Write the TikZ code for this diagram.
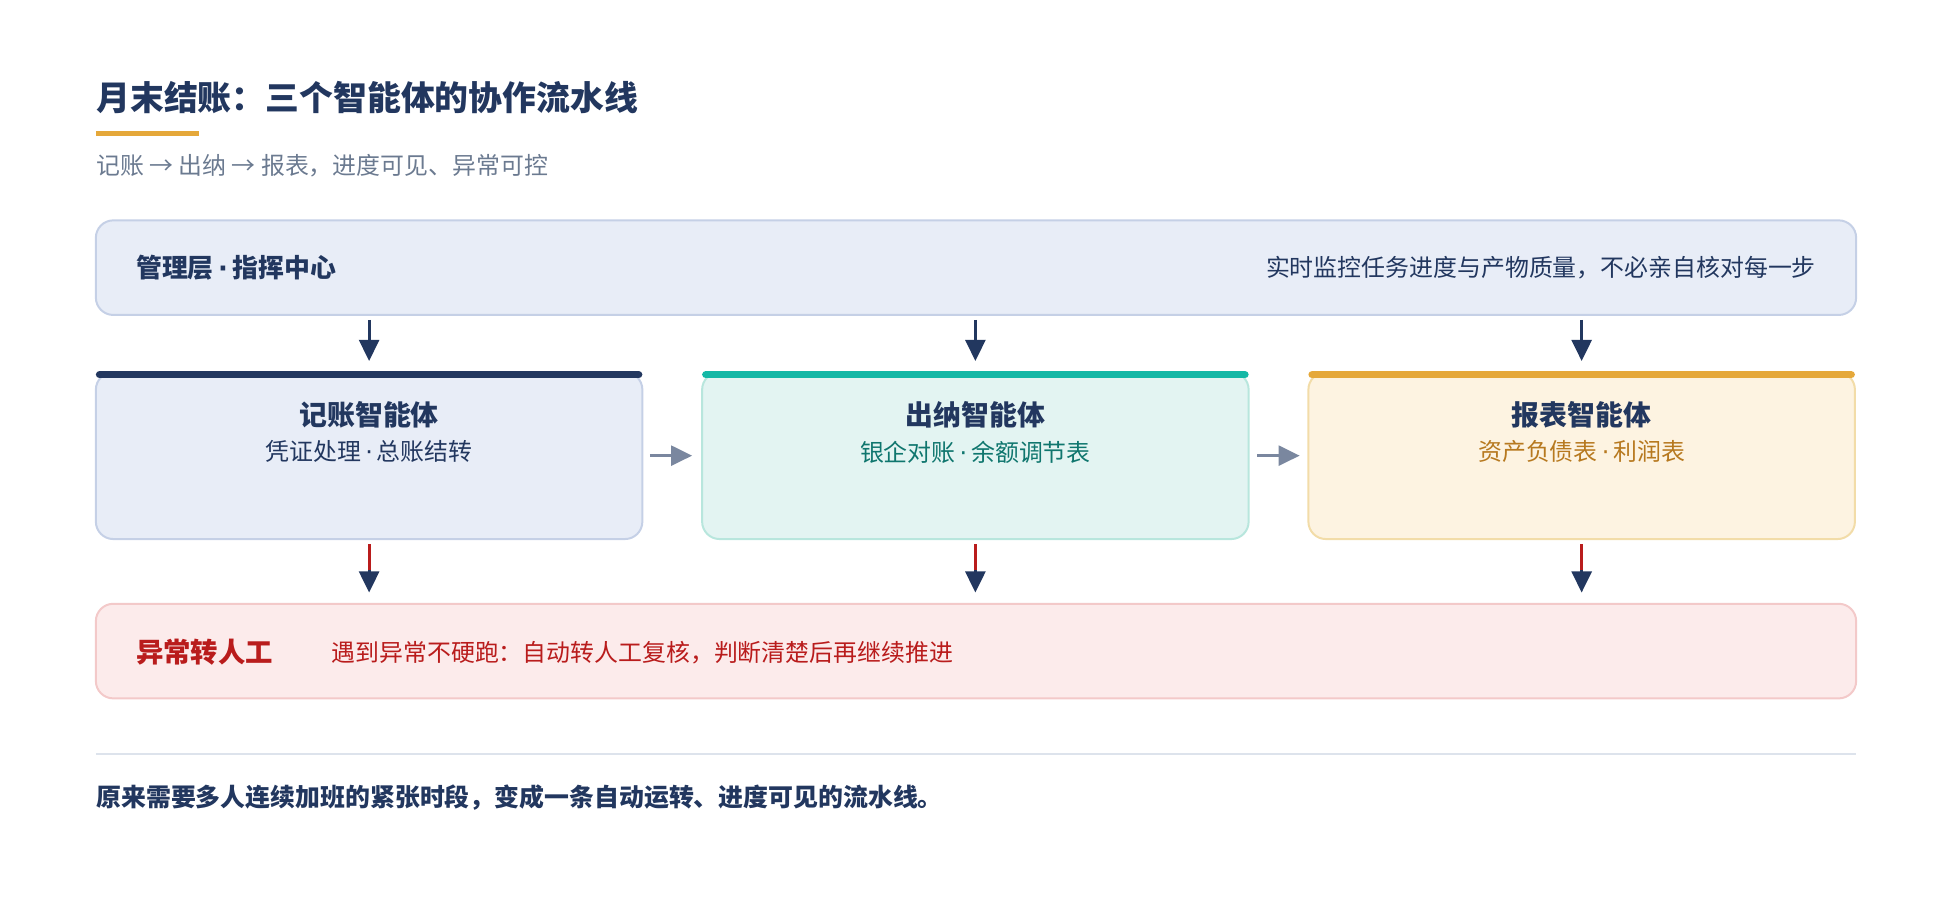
\documentclass[tikz,border=0pt]{standalone}
\usepackage{fontspec}
\setmainfont{Noto Sans CJK SC}
\newfontfamily\dotfont{DejaVu Sans}
\newcommand{\mdot}{{\dotfont\,·\,}}
\usetikzlibrary{arrows.meta,positioning}
\definecolor{navy}{HTML}{22375F}
\definecolor{mgmtfill}{HTML}{E8EDF7}
\definecolor{mgmtline}{HTML}{C5D0E6}
\definecolor{tealfill}{HTML}{E3F4F2}
\definecolor{tealline}{HTML}{B8E6DD}
\definecolor{tealbar}{HTML}{14B8A6}
\definecolor{tealtext}{HTML}{0F766E}
\definecolor{goldfill}{HTML}{FDF3E1}
\definecolor{goldline}{HTML}{F2DCA8}
\definecolor{goldbar}{HTML}{E5A83A}
\definecolor{goldtext}{HTML}{B7791F}
\definecolor{redfill}{HTML}{FCEBEB}
\definecolor{redline}{HTML}{F3C9C9}
\definecolor{redtext}{HTML}{B91C1C}
\definecolor{subgray}{HTML}{6B7A90}
\definecolor{rulegray}{HTML}{DDE3EC}
\tikzset{
  panel/.style={rounded corners=7pt, line width=0.8pt},
  flow/.style={-{Triangle[length=8.5pt,width=8pt]}, line width=1.2pt, navy},
  side/.style={-{Triangle[length=8.5pt,width=8pt]}, line width=1.2pt, navy!60!white},
  escal/.style={line width=1.2pt, redtext},
  head/.style={font=\bfseries\fontsize{11.2}{13}\selectfont, text=navy},
  sub/.style={font=\fontsize{9.6}{11}\selectfont},
  every node/.append style={inner sep=0pt},
}
\begin{document}
\begin{tikzpicture}[x=0.5pt,y=-0.5pt]
\useasboundingbox (0,0) rectangle (1568,729);
% title block
\node[anchor=west, font=\bfseries\fontsize{13.6}{15}\selectfont, text=navy] (title) at (77,78) {月末结账：三个智能体的协作流水线};
\draw[goldbar, line width=2pt] (77,107) -- (160,107);
\node[anchor=west, sub, text=subgray] (subtitle) at (77,133) {记账 → 出纳 → 报表，进度可见、异常可控};
% management
\draw[panel, fill=mgmtfill, draw=mgmtline] (77,177) rectangle (1491,253);
\node[anchor=west, font=\bfseries\fontsize{10.4}{12}\selectfont, text=navy] (mgmt) at (109,215) {管理层\mdot 指挥中心};
\node[anchor=east, sub, text=navy] (mgmtnote) at (1459,215) {实时监控任务进度与产物质量，不必亲自核对每一步};
% agents
\foreach \x/\fc/\lc/\bc/\tc/\name/\task [count=\i] in {
  77/mgmtfill/mgmtline/navy/navy/记账智能体/凭证处理\mdot 总账结转,
  564/tealfill/tealline/tealbar/tealtext/出纳智能体/银企对账\mdot 余额调节表,
  1051/goldfill/goldline/goldbar/goldtext/报表智能体/资产负债表\mdot 利润表}{
  \draw[panel, fill=\fc, draw=\lc] (\x,299) rectangle ++(439,134);
  \draw[\bc, line width=3pt, line cap=round] (\x+3,301) -- ++(433,0);
  \node[head] (agent\i) at (\x+219.5,333) {\name};
  \node[sub, text=\tc] (task\i) at (\x+219.5,363) {\task};
  \coordinate (up\i) at (\x+219.5,257);
  \coordinate (in\i) at (\x+219.5,290);
  \coordinate (out\i) at (\x+219.5,437);
  \coordinate (mid\i) at (\x+219.5,458);
  \coordinate (exc\i) at (\x+219.5,476);
  \draw[flow] (up\i) -- (in\i);
  \draw[escal] (out\i) -- (mid\i);
  \draw[flow] (mid\i) -- (exc\i);
}
\coordinate (a1) at (522,366); \coordinate (b1) at (556,366);
\coordinate (a2) at (1010,366); \coordinate (b2) at (1044,366);
\draw[side] (a1) -- (b1);
\draw[side] (a2) -- (b2);
% exception
\draw[panel, fill=redfill, draw=redline] (77,485) rectangle (1491,561);
\node[anchor=west, font=\bfseries\fontsize{11}{12}\selectfont, text=redtext] (excl) at (109,524) {异常转人工};
\node[anchor=west, sub, text=redtext] (excnote) at (266,524) {遇到异常不硬跑：自动转人工复核，判断清楚后再继续推进};
% footer
\draw[rulegray, line width=0.8pt] (77,606) -- (1491,606);
\node[anchor=west, font=\bfseries\fontsize{10}{11}\selectfont, text=navy] (foot) at (77,641) {原来需要多人连续加班的紧张时段，变成一条自动运转、进度可见的流水线。};
\end{tikzpicture}
\end{document}
